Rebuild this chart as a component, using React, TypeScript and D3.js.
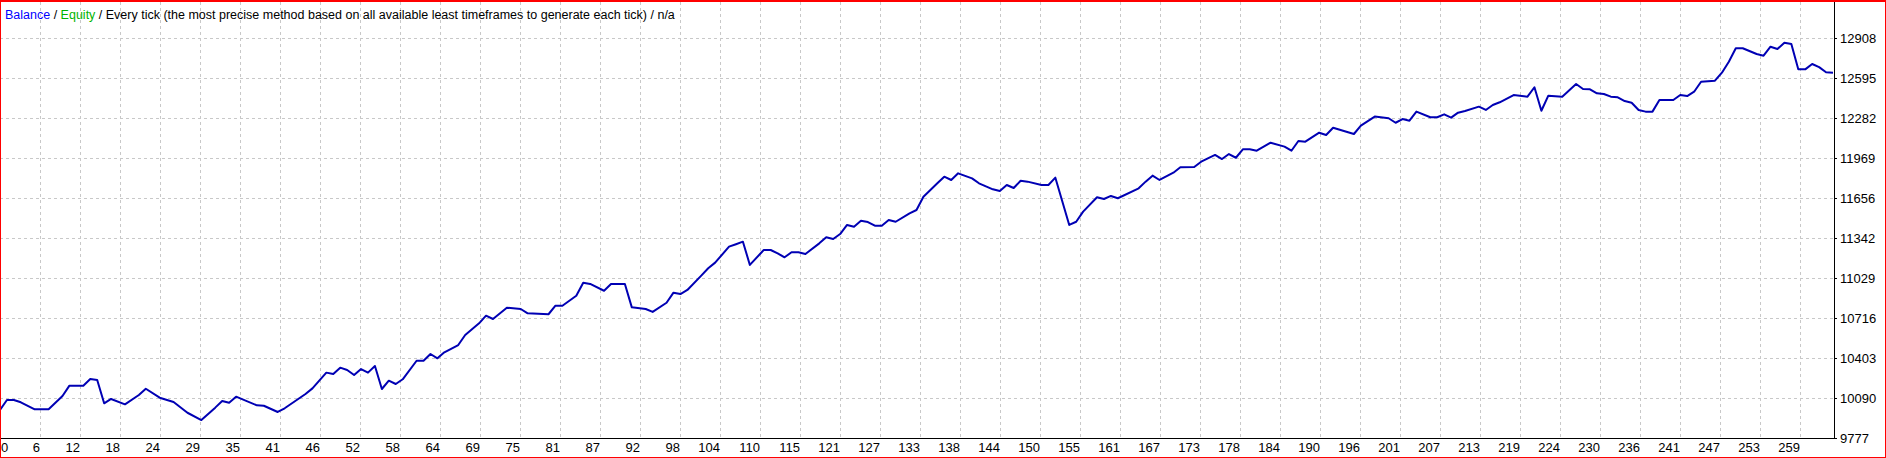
import React from "react";
import * as d3 from "d3";

const W = 1886;
const H = 458;

// Trade numbers (x) and balance values (y)
const trades = [
  0, 1, 2, 3, 5, 7, 9, 10, 12, 13, 14, 15, 16, 18, 20, 21, 23, 25, 27, 29,
  31, 32, 33, 34, 37, 38, 40, 41, 44, 45, 47, 48, 49, 50, 51, 52, 53, 54, 55, 56,
  57, 58, 60, 61, 62, 63, 64, 66, 67, 69, 70, 71, 73, 75, 76, 79, 80, 81, 83, 84,
  85, 87, 88, 90, 91, 93, 94, 96, 97, 98, 99, 101, 102, 103, 105, 106, 107, 108, 110, 111,
  112, 113, 114, 115, 116, 118, 119, 120, 121, 122, 123, 124, 125, 126, 127, 128, 129, 131, 132, 133,
  135, 136, 137, 138, 140, 141, 143, 144, 145, 146, 147, 148, 150, 151, 152, 154, 155, 156, 158, 159,
  160, 161, 164, 165, 166, 167, 169, 170, 172, 173, 175, 176, 177, 178, 179, 180, 181, 183, 185, 186,
  187, 188, 190, 191, 192, 195, 196, 198, 200, 201, 202, 203, 204, 206, 207, 208, 209, 210, 211, 213,
  214, 215, 216, 218, 220, 221, 222, 223, 225, 227, 228, 229, 230, 231, 232, 233, 234, 235, 236, 237,
  238, 239, 241, 242, 243, 244, 245, 247, 248, 249, 250, 251, 253, 254, 255, 256, 257, 258, 259, 260,
  261, 262, 263, 264,
];

const balances = [
  9999, 10077, 10077, 10059, 10004, 10004, 10108, 10189, 10189, 10241, 10233, 10051, 10085, 10043, 10116, 10165, 10095, 10061, 9977, 9920,
  10017, 10069, 10056, 10103, 10035, 10032, 9983, 10012, 10124, 10168, 10291, 10280, 10330, 10312, 10272, 10319, 10291, 10343, 10163, 10228,
  10202, 10239, 10384, 10384, 10437, 10403, 10450, 10507, 10586, 10677, 10737, 10711, 10799, 10789, 10755, 10748, 10815, 10815, 10893, 10995,
  10985, 10932, 10985, 10985, 10802, 10789, 10766, 10838, 10917, 10906, 10938, 11050, 11108, 11152, 11277, 11296, 11316, 11134, 11251, 11251,
  11225, 11194, 11233, 11233, 11220, 11303, 11350, 11337, 11376, 11447, 11433, 11480, 11470, 11441, 11441, 11486, 11472, 11538, 11564, 11668,
  11773, 11825, 11799, 11851, 11812, 11773, 11726, 11713, 11760, 11736, 11793, 11786, 11760, 11760, 11817, 11447, 11472, 11551, 11664, 11650,
  11674, 11656, 11734, 11786, 11833, 11799, 11856, 11898, 11900, 11942, 11995, 11963, 12002, 11973, 12039, 12039, 12028, 12091, 12060, 12028,
  12104, 12099, 12169, 12151, 12208, 12159, 12224, 12295, 12282, 12247, 12276, 12263, 12334, 12290, 12290, 12313, 12287, 12326, 12339, 12373,
  12347, 12386, 12407, 12464, 12451, 12525, 12341, 12459, 12451, 12550, 12511, 12509, 12477, 12472, 12451, 12446, 12417, 12404, 12347, 12334,
  12334, 12425, 12425, 12464, 12456, 12490, 12568, 12576, 12639, 12725, 12830, 12830, 12785, 12772, 12842, 12824, 12874, 12864, 12665, 12665,
  12707, 12682, 12642, 12639,
];

const yTickLabels = [9777, 10090, 10403, 10716, 11029, 11342, 11656, 11969, 12282, 12595, 12908];

const xTickLabels = [
  0, 6, 12, 18, 24, 29, 35, 41, 46, 52, 58, 64, 69, 75, 81, 87, 92, 98, 104, 110,
  115, 121, 127, 133, 138, 144, 150, 155, 161, 167, 173, 178, 184, 190, 196, 201, 207, 213, 219, 224,
  230, 236, 241, 247, 253, 259,
];

const totalTrades = 264;

const FONT = "Tahoma, 'Liberation Sans', Arial, sans-serif";

export default function App() {
  const plotLeft = 0;
  const plotRight = 1834;
  const plotTop = 2;
  const plotBottom = 438.3;

  const xScale = d3.scaleLinear().domain([0, totalTrades]).range([plotLeft, plotRight - 1]);
  const yScale = d3.scaleLinear().domain([9777, 12908]).range([plotBottom, 38.3]);
  const tickScale = d3
    .scaleLinear()
    .domain([0, xTickLabels.length - 1])
    .range([0, 1800]);

  const points: [number, number][] = trades.map((t, i) => [t, balances[i]]);
  const line = d3
    .line<[number, number]>()
    .x((d) => xScale(d[0]))
    .y((d) => yScale(d[1]));

  return (
    <svg
      width={W}
      height={H}
      style={{ position: "absolute", left: 0, top: 0, display: "block", background: "#fff" }}
      fontFamily={FONT}
    >
      <rect x={0} y={0} width={W} height={H} fill="#fff" />
      {/* horizontal grid */}
      {yTickLabels.slice(1).map((v) => (
        <line
          key={"hg" + v}
          x1={plotLeft}
          x2={plotRight}
          y1={Math.round(yScale(v)) + 0.5}
          y2={Math.round(yScale(v)) + 0.5}
          stroke="#c8c8c8"
          strokeDasharray="3,3"
        />
      ))}
      {/* vertical grid */}
      {xTickLabels.slice(1).map((lab, k) => {
        const x = Math.round(tickScale(k + 1)) + 0.5;
        return (
          <line
            key={"vg" + lab}
            x1={x}
            x2={x}
            y1={plotTop}
            y2={plotBottom}
            stroke="#c8c8c8"
            strokeDasharray="3,3"
          />
        );
      })}
      {/* axes */}
      <line x1={plotLeft} x2={plotRight + 0.5} y1={438.5} y2={438.5} stroke="#000" />
      <line x1={plotRight + 0.5} x2={plotRight + 0.5} y1={plotTop} y2={439} stroke="#000" />
      {yTickLabels.map((v) => (
        <line
          key={"yt" + v}
          x1={plotRight}
          x2={plotRight + 3}
          y1={Math.round(yScale(v)) + 0.5}
          y2={Math.round(yScale(v)) + 0.5}
          stroke="#000"
        />
      ))}
      {/* balance line */}
      <path d={line(points) || ""} fill="none" stroke="#0000b4" strokeWidth={2} strokeLinejoin="round" />
      {/* y labels */}
      {yTickLabels.map((v) => (
        <text key={"yl" + v} x={1840} y={yScale(v) + 5} fontSize={13} fill="#000">
          {v}
        </text>
      ))}
      {/* x labels */}
      {xTickLabels.map((lab, k) => (
        <text
          key={"xl" + lab}
          x={k === 0 ? 1 : tickScale(k)}
          y={452}
          fontSize={13}
          textAnchor={k === 0 ? "start" : "end"}
          fill="#000"
        >
          {lab}
        </text>
      ))}
      {/* title */}
      <text x={5} y={19} fontSize={12.5}>
        <tspan fill="#0000ff">Balance</tspan>
        <tspan fill="#000"> / </tspan>
        <tspan fill="#00b400">Equity</tspan>
        <tspan fill="#000"> / Every tick (the most precise method based on all available least timeframes to generate each tick) / n/a</tspan>
      </text>
      {/* red frame */}
      <rect x={0.5} y={0.5} width={W - 1} height={H - 1} fill="none" stroke="#ff0000" />
      <line x1={0} x2={W} y1={1.5} y2={1.5} stroke="#ff0000" />
    </svg>
  );
}
